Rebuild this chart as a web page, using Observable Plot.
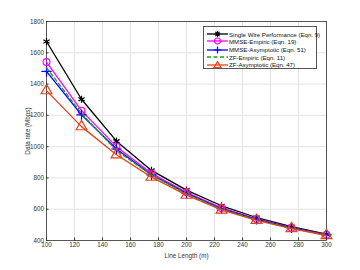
<!DOCTYPE html>
<html><head><meta charset="utf-8">
<script src="https://cdn.jsdelivr.net/npm/d3@7"></script>
<script src="https://cdn.jsdelivr.net/npm/@observablehq/plot@0.6"></script>
<style>
body{margin:0;background:#fff;font-family:"Liberation Sans",Arial,sans-serif;}
#wrap{position:relative;width:360px;height:270px;}
#legend{position:absolute;left:203px;top:26px;width:114px;height:43px;border:0.8px solid #555;background:#fff;box-sizing:border-box;font-size:6.1px;color:#111;}
#legend .row{position:absolute;left:0;height:8px;width:114px;}
#legend svg{position:absolute;left:2px;top:0;}
#legend span{position:absolute;left:25px;top:0.5px;white-space:nowrap;}
</style></head>
<body><div id="wrap"></div>
<script>
const lengths = [100,125,150,175,200,225,250,275,300];
const singleWire = [1672,1303,1035,848,722,622,547,488,440];
const mmseEmpiric = [1541,1230,1000,830,708,608,538,482,437];
const mmseAsym = [1481,1203,985,820,702,603,535,480,436];
const zfEmpiric = [1505,1212,975,818,698,600,533,478,435];
const zfAsym = [1358,1128,948,805,690,595,529,476,432];
const seriesNames = ["Single Wire Performance (Eqn. 9)","MMSE-Empiric (Eqn. 19)","MMSE-Asymptotic (Eqn. 51)","ZF-Empiric (Eqn. 11)","ZF-Asymptotic (Eqn. 47)"];
const seriesValues = [singleWire, mmseEmpiric, mmseAsym, zfEmpiric, zfAsym];
const colors = ["#000000","#ff00ff","#0000ff","#1f9a1f","#e0441a"];
const symbols = ["asterisk","circle","plus",null,"triangle"];
const dashes = [null,null,null,"4,2.5",null];
const xTicks = [100,120,140,160,180,200,220,240,260,280,300];
const yTicks = [400,600,800,1000,1200,1400,1600,1800];

const rows = [];
seriesNames.forEach((n,i)=>lengths.forEach((x,j)=>rows.push({series:n,x,y:seriesValues[i][j],i})));

const marks = [
  Plot.gridX(xTicks,{stroke:"#e3e3e3",strokeOpacity:1}),
  Plot.gridY(yTicks,{stroke:"#e3e3e3",strokeOpacity:1}),
  Plot.frame({stroke:"#333",strokeWidth:0.8}),
];
seriesNames.forEach((n,i)=>{
  const d = rows.filter(r=>r.i===i);
  marks.push(Plot.line(d,{x:"x",y:"y",stroke:colors[i],strokeWidth:1.3,strokeDasharray:dashes[i]}));
  if(symbols[i]) marks.push(Plot.dot(d,{x:"x",y:"y",stroke:colors[i],symbol:symbols[i],r:symbols[i]==="triangle"?4:3.4,strokeWidth:1.2,fill:"none"}));
});
marks.push(
  Plot.axisX(xTicks,{tickSize:-2.5,tickPadding:5,fontSize:6.3,tickFormat:d3.format("d"),label:"Line Length (m)",labelAnchor:"center",labelArrow:"none",labelOffset:17,color:"#333"}),
  Plot.axisY(yTicks,{tickSize:-2.5,tickPadding:5,fontSize:6.3,tickFormat:d3.format("d"),label:"Data rate (Mbps)",labelAnchor:"center",labelArrow:"none",labelOffset:21,color:"#333"})
);
const chart = Plot.plot({
  width:360,height:270,marginLeft:46,marginRight:34,marginTop:21,marginBottom:30,
  x:{domain:[100,300]},y:{domain:[400,1800]},
  style:{fontFamily:"Liberation Sans, Arial, sans-serif",fontSize:"6.8px",background:"#fff"},
  marks
});
const wrap = document.getElementById("wrap");
wrap.appendChild(chart);
const lg = document.createElement("div"); lg.id="legend";
const ys=[3,10,18.5,26,33.5];
seriesNames.forEach((n,i)=>{
  const r=document.createElement("div"); r.className="row"; r.style.top=ys[i]+"px";
  let sym="";
  if(symbols[i]==="asterisk") sym=`<path d="M11.5,1v6M8.5,4h6M9.4,1.9l4.2,4.2M13.6,1.9l-4.2,4.2" stroke="${colors[i]}" stroke-width="1.2"/>`;
  if(symbols[i]==="circle") sym=`<circle cx="11.5" cy="4" r="3" fill="none" stroke="${colors[i]}" stroke-width="1.2"/>`;
  if(symbols[i]==="plus") sym=`<path d="M11.5,0.5v7M8,4h7" stroke="${colors[i]}" stroke-width="1.2"/>`;
  if(symbols[i]==="triangle") sym=`<path d="M11.5,0.6L15,6.6H8z" fill="none" stroke="${colors[i]}" stroke-width="1.2"/>`;
  r.innerHTML=`<svg width="23" height="8"><line x1="1" x2="22" y1="4" y2="4" stroke="${colors[i]}" stroke-width="1.3" ${dashes[i]?`stroke-dasharray="${dashes[i]}"`:""}/>${sym}</svg><span>${n}</span>`;
  lg.appendChild(r);
});
wrap.appendChild(lg);
</script></body></html>
